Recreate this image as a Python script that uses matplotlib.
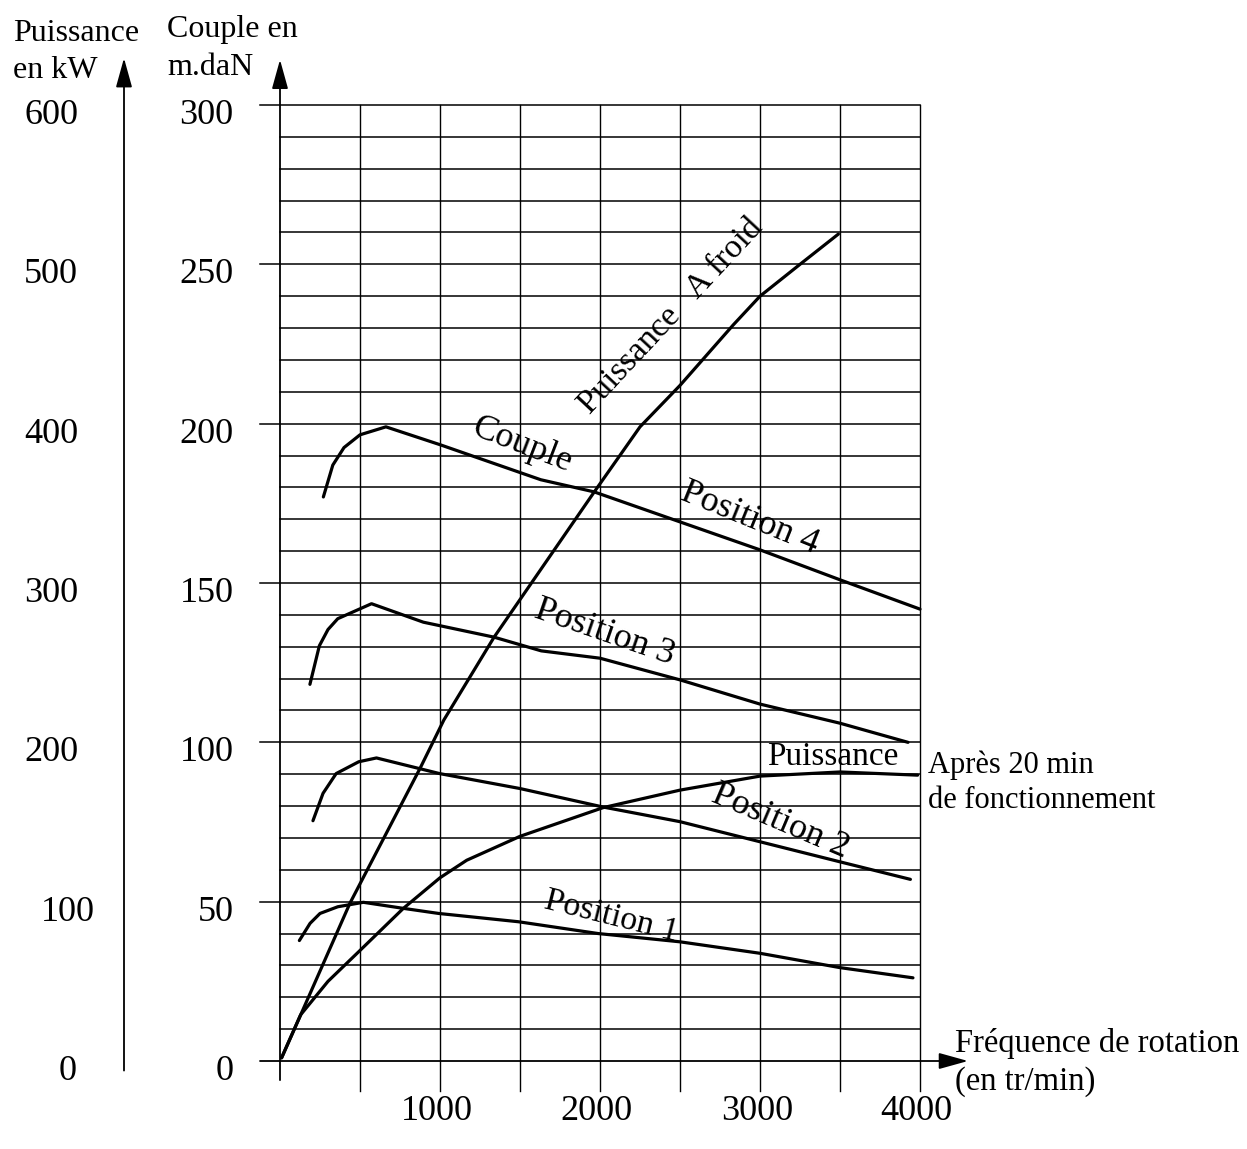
import matplotlib
matplotlib.use("Agg")
import matplotlib.pyplot as plt
import numpy as np

# couple curves (rpm, m.daN)
pos4_rpm = [271, 330, 400, 500, 662, 1000, 1630, 1963, 3000, 3500, 4000]
pos4_c = [177, 187, 192.5, 196.5, 199, 193.4, 182.4, 178.6, 160.4, 151, 141.8]

pos3_rpm = [187, 246, 300, 361, 572, 896, 1338, 1633, 2000, 2500, 3000, 3500, 3925]
pos3_c = [118.2, 130.3, 135.4, 138.8, 143.5, 137.7, 133, 128.7, 126.4, 119.6, 112, 106, 100]

pos2_rpm = [206, 269, 351, 492, 603, 997, 1500, 2019, 2500, 3000, 3500, 3940]
pos2_c = [75.4, 84, 90.2, 93.9, 95.1, 90.2, 85.5, 79.7, 75.1, 68.8, 62.5, 57]

pos1_rpm = [121, 188, 250, 361, 521, 771, 992, 1490, 1988, 2500, 3000, 3500, 3956]
pos1_c = [37.8, 43.2, 46.3, 48.4, 49.8, 47.9, 46.3, 43.7, 40, 37.4, 33.8, 29.3, 26.1]

# power curves (rpm, kW)
froid_rpm = [10, 125, 437, 877, 1024, 1338, 1963, 2250, 2500, 2833, 3000, 3250, 3490]
froid_p = [2, 28, 99, 184, 214, 266, 357, 398, 424, 462, 480, 500, 519]

apres_rpm = [10, 129, 300, 492, 771, 1000, 1167, 1500, 2019, 2500, 3000, 3500, 3985]
apres_p = [2, 29, 50, 68.6, 95.8, 115, 126, 141, 159, 170, 178.8, 181.4, 179.4]

couple_ticks = [0, 50, 100, 150, 200, 250, 300]
power_ticks = [0, 100, 200, 300, 400, 500, 600]
rpm_ticks = [1000, 2000, 3000, 4000]

plt.rcParams['font.family'] = ['Liberation Serif', 'DejaVu Serif']

fig = plt.figure(figsize=(12.47, 11.49), dpi=100)
ax = fig.add_axes([0, 0, 1, 1])
ylo, yhi = -88 / 3.1867, 1061 / 3.1867
ax.set_xlim(-1750, 6043.75)
ax.set_ylim(ylo, yhi)
ax.axis('off')
axp = ax.twinx()
axp.set_ylim(2 * ylo, 2 * yhi)
axp.axis('off')

# grid
for v in range(10, 310, 10):
    x0 = -125 if v % 50 == 0 else 0
    ax.plot([x0, 4000], [v, v], color='k', lw=1.1, zorder=1)
for r in range(500, 4500, 500):
    ax.plot([r, r], [-9.5, 300], color='k', lw=1.0, zorder=1)

# axes with arrows
arr = dict(arrowstyle='-|>,head_length=1.8,head_width=0.5', lw=1.3, color='k',
           shrinkA=0, shrinkB=0)
ax.annotate('', xy=(0, 314.2), xytext=(0, -6), arrowprops=arr)
ax.annotate('', xy=(-975, 314.7), xytext=(-975, -3), arrowprops=arr)
ax.annotate('', xy=(4300, 0), xytext=(-125, 0), arrowprops=arr)

# curves
kw = dict(color='k', lw=2.3, solid_capstyle='round', solid_joinstyle='round', zorder=3)
ax.plot(pos4_rpm, pos4_c, **kw)
ax.plot(pos3_rpm, pos3_c, **kw)
ax.plot(pos2_rpm, pos2_c, **kw)
ax.plot(pos1_rpm, pos1_c, **kw)
axp.plot(froid_rpm, froid_p, **kw)
axp.plot(apres_rpm, apres_p, **kw)

# tick labels
for v in couple_ticks:
    ax.text(-290, v - 6, str(v), fontsize=26, ha='right', va='baseline')
for v in power_ticks:
    xp = -1325 if v <= 100 else -1431
    axp.text(xp, v - 12, str(v), fontsize=26, ha='center', va='baseline')
for r in rpm_ticks:
    ax.text(r - 20, -18.5, str(r), fontsize=26, ha='center', va='baseline')

# axis titles
ax.text(-1669, 320.2, 'Puissance', fontsize=23, ha='left', va='baseline')
ax.text(-1669, 308.5, 'en kW', fontsize=23, ha='left', va='baseline')
ax.text(-706, 321.4, 'Couple en', fontsize=23, ha='left', va='baseline')
ax.text(-706, 309.4, 'm.daN', fontsize=23, ha='left', va='baseline')
ax.text(4219, 2.8, 'Fréquence de rotation', fontsize=23.5, ha='left', va='baseline')
ax.text(4219, -9.1, '(en tr/min)', fontsize=23.5, ha='left', va='baseline')

# curve labels
lab = dict(ha='center', va='center', rotation_mode='anchor')
ax.text(1515, 193.3, 'Couple', fontsize=26, rotation=-21, **lab)
ax.text(2937, 170.4, 'Position 4', fontsize=26, rotation=-22, **lab)
ax.text(2030, 134.3, 'Position 3', fontsize=26, rotation=-19, **lab)
ax.text(3127, 75.1, 'Position 2', fontsize=26, rotation=-23, **lab)
ax.text(2070, 45.2, 'Position 1', fontsize=24.5, rotation=-14, **lab)
ax.text(2444, 233.8, 'Puissance   A froid', fontsize=24.5, rotation=47, **lab)
ax.text(3044, 92.9, 'Puissance', fontsize=24, ha='left', va='baseline')
ax.text(4050, 90.5, 'Après 20 min', fontsize=22, ha='left', va='baseline')
ax.text(4050, 79.5, 'de fonctionnement', fontsize=22, ha='left', va='baseline')

fig.savefig('out.png', dpi=100)
